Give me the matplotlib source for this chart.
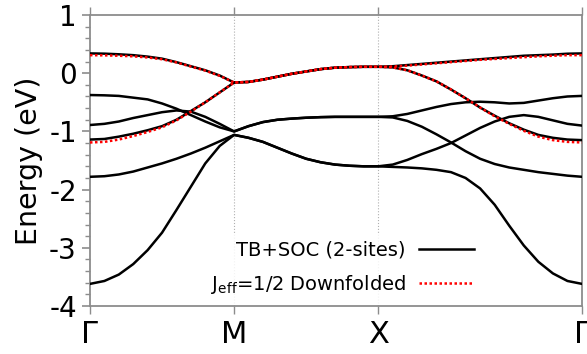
import numpy as np
import matplotlib
matplotlib.use("Agg")
import matplotlib.pyplot as plt
from matplotlib.ticker import MultipleLocator

plt.rcParams["axes.unicode_minus"] = False
plt.rcParams["font.family"] = "DejaVu Sans"

# high symmetry path: G-M = 1, M-X = 1, X-G = sqrt(2)
kpt_pos = [0.0, 1.0, 2.0, 2.0 + np.sqrt(2.0)]
kpt_labels = ["Γ", "M", "X", "Γ"]

# sampling positions along each segment
k_gm = np.linspace(kpt_pos[0], kpt_pos[1], 11)
k_mx = np.linspace(kpt_pos[1], kpt_pos[2], 11)
k_xg = np.linspace(kpt_pos[2], kpt_pos[3], 15)

band1_gm = [0.34, 0.336, 0.325, 0.31, 0.285, 0.25, 0.19, 0.12, 0.05, -0.04, -0.16]
band1_mx = [-0.16, -0.15, -0.11, -0.06, -0.01, 0.03, 0.07, 0.095, 0.105, 0.11, 0.11]
band1_xg = [0.11, 0.12, 0.14, 0.16, 0.18, 0.20, 0.22, 0.24, 0.26, 0.28, 0.30, 0.31, 0.32, 0.335, 0.34]

band2_gm = [-1.14, -1.13, -1.09, -1.04, -0.98, -0.91, -0.80, -0.65, -0.50, -0.33, -0.16]
band2_mx = band1_mx
band2_xg = [0.11, 0.10, 0.05, -0.04, -0.14, -0.28, -0.43, -0.59, -0.73, -0.86, -0.97, -1.06, -1.11, -1.14, -1.15]

band3_gm = [-0.375, -0.38, -0.39, -0.42, -0.45, -0.52, -0.61, -0.72, -0.83, -0.93, -1.00]
band3_mx = [-1.00, -0.91, -0.84, -0.80, -0.78, -0.765, -0.755, -0.75, -0.75, -0.75, -0.75]
band3_xg = [-0.75, -0.74, -0.70, -0.64, -0.58, -0.53, -0.50, -0.49, -0.50, -0.52, -0.51, -0.47, -0.43, -0.40, -0.39]

band4_gm = [-0.89, -0.87, -0.83, -0.77, -0.72, -0.67, -0.64, -0.66, -0.75, -0.87, -1.00]
band4_mx = band3_mx
band4_xg = [-0.75, -0.76, -0.82, -0.92, -1.05, -1.19, -1.34, -1.47, -1.56, -1.62, -1.66, -1.70, -1.73, -1.76, -1.78]

band5_gm = [-1.78, -1.77, -1.74, -1.69, -1.62, -1.55, -1.47, -1.38, -1.28, -1.17, -1.06]
band5_mx = [-1.06, -1.11, -1.18, -1.28, -1.38, -1.47, -1.53, -1.57, -1.59, -1.60, -1.60]
band5_xg = [-1.60, -1.57, -1.49, -1.39, -1.30, -1.20, -1.07, -0.94, -0.83, -0.75, -0.72, -0.75, -0.81, -0.87, -0.90]

band6_gm = [-3.62, -3.57, -3.46, -3.28, -3.04, -2.74, -2.35, -1.95, -1.55, -1.25, -1.06]
band6_mx = band5_mx
band6_xg = [-1.60, -1.61, -1.62, -1.635, -1.66, -1.70, -1.80, -1.98, -2.26, -2.62, -2.96, -3.24, -3.44, -3.57, -3.62]

# Jeff=1/2 downfolded bands
jeff1_gm = [0.31, 0.307, 0.30, 0.29, 0.27, 0.24, 0.185, 0.115, 0.045, -0.045, -0.16]
jeff1_mx = band1_mx
jeff1_xg = [0.11, 0.115, 0.13, 0.15, 0.17, 0.19, 0.21, 0.23, 0.245, 0.26, 0.275, 0.29, 0.30, 0.31, 0.31]

jeff2_gm = [-1.19, -1.18, -1.14, -1.08, -1.01, -0.93, -0.81, -0.66, -0.50, -0.33, -0.16]
jeff2_mx = band1_mx
jeff2_xg = [0.11, 0.10, 0.05, -0.04, -0.14, -0.28, -0.43, -0.59, -0.74, -0.87, -0.99, -1.09, -1.15, -1.18, -1.19]

tb_bands = [
    (band1_gm, band1_mx, band1_xg),
    (band2_gm, band2_mx, band2_xg),
    (band3_gm, band3_mx, band3_xg),
    (band4_gm, band4_mx, band4_xg),
    (band5_gm, band5_mx, band5_xg),
    (band6_gm, band6_mx, band6_xg),
]
jeff_bands = [
    (jeff1_gm, jeff1_mx, jeff1_xg),
    (jeff2_gm, jeff2_mx, jeff2_xg),
]

k_all = np.concatenate([k_gm, k_mx[1:], k_xg[1:]])


def join(seg):
    gm, mx, xg = seg
    return np.concatenate([gm, mx[1:], xg[1:]])


GREY = "#8c8c8c"

fig = plt.figure(figsize=(5.87, 3.54), dpi=100)
ax = fig.add_axes([0.1533, 0.1356, 0.8382, 0.822])

for xv in kpt_pos[1:3]:
    ax.axvline(xv, color="#b0b0b0", lw=0.8, ls=":", zorder=1)

for i, seg in enumerate(tb_bands):
    ax.plot(k_all, join(seg), color="black", lw=1.8, zorder=3,
            solid_joinstyle="round", label="TB+SOC (2-sites)" if i == 0 else None)
for i, seg in enumerate(jeff_bands):
    ax.plot(k_all, join(seg), color="red", lw=1.8, ls=(0, (1, 1)), zorder=4,
            label=r"J$_{\rm eff}$=1/2 Downfolded" if i == 0 else None)

ax.set_xlim(kpt_pos[0], kpt_pos[-1])
ax.set_ylim(-4, 1)
ax.set_xticks(kpt_pos)
ax.set_xticklabels(kpt_labels, fontsize=22)
ax.set_yticks([-4, -3, -2, -1, 0, 1])
ax.yaxis.set_minor_locator(MultipleLocator(0.2))
ax.tick_params(axis="y", which="major", labelsize=20, length=6, width=1.2, color=GREY)
ax.tick_params(axis="y", which="minor", length=3.5, width=1.0, color=GREY)
ax.tick_params(axis="x", which="major", length=6, width=1.0, color=GREY,
               top=True, pad=4)
ax.tick_params(axis="y", right=False)
for sp in ax.spines.values():
    sp.set_color(GREY)
    sp.set_linewidth(1.3)

ax.set_ylabel("Energy (eV)", fontsize=20.5, labelpad=4)

ax.legend(loc="lower right", bbox_to_anchor=(0.80, 0.0), markerfirst=False,
          fontsize=14, handlelength=2.8, handletextpad=0.7, labelspacing=0.7,
          frameon=True, facecolor="white", edgecolor="none", framealpha=0.85,
          borderaxespad=0.1)

fig.savefig("out.png", dpi=100)
